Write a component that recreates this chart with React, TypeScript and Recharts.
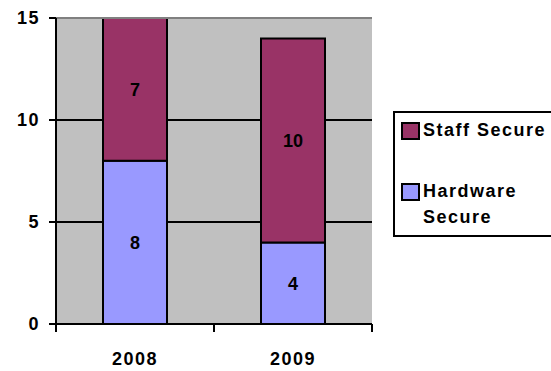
import React from 'react';
import { BarChart, Bar, XAxis, YAxis, CartesianGrid, LabelList, ReferenceLine } from 'recharts';

const categories = ['2008', '2009'];
const hardwareSecure = [8, 4];
const staffSecure = [7, 10];
const yTicks = [0, 5, 10, 15];

const seriesNames = { staff: 'Staff Secure', hardware: 'Hardware Secure' };
const seriesColors = { staff: '#993366', hardware: '#9999FF' };

const data = categories.map((c, i) => ({ year: c, hardware: hardwareSecure[i], staff: staffSecure[i] }));

const FONT = '"Liberation Sans", Arial, sans-serif';
const tickStyle = { fill: '#000', fontSize: 18, fontWeight: 'bold', fontFamily: FONT, letterSpacing: 1.5 } as any;

const legendItems = [
  { key: 'staff', name: seriesNames.staff, color: seriesColors.staff },
  { key: 'hardware', name: seriesNames.hardware, color: seriesColors.hardware },
];

const X_TICK_MARGIN = 28;
const Y_TICK_MARGIN = 9;
const TICK_LEN = 8;

function CategoryTick(props: any) {
  const { x, y, payload, width, visibleTicksCount } = props;
  const n = visibleTicksCount || categories.length;
  const half = width ? width / n / 2 : 0;
  const axisY = y - X_TICK_MARGIN;
  return (
    <g>
      <line x1={x - half} x2={x - half} y1={axisY} y2={axisY + TICK_LEN} stroke="#000" strokeWidth={2} />
      <line x1={x + half} x2={x + half} y1={axisY} y2={axisY + TICK_LEN} stroke="#000" strokeWidth={2} />
      <text x={x} y={y} dy="0.71em" textAnchor="middle" {...tickStyle}>
        {payload.value}
      </text>
    </g>
  );
}

function ValueTick(props: any) {
  const { x, y, payload } = props;
  const axisX = x + Y_TICK_MARGIN + 7;
  return (
    <g>
      <line x1={axisX - 7} x2={axisX} y1={y} y2={y} stroke="#000" strokeWidth={2} />
      <text x={x} y={y} dy="0.355em" textAnchor="end" {...tickStyle}>
        {payload.value}
      </text>
    </g>
  );
}

function LegendBox() {
  return (
    <div
      style={{
        position: 'absolute',
        left: 393,
        top: 111,
        width: 175,
        height: 126,
        boxSizing: 'border-box',
        border: '2px solid #000',
        background: '#fff',
        paddingTop: 4,
        fontFamily: FONT,
        fontWeight: 'bold',
        fontSize: 18,
        letterSpacing: 1.5,
        lineHeight: '26px',
        color: '#000',
      }}
    >
      {legendItems.map((it, i) => (
        <div key={it.key} style={{ display: 'flex', alignItems: 'flex-start', marginTop: i === 0 ? 0 : 35, marginLeft: 6 }}>
          <div
            style={{
              width: 19,
              height: 18,
              boxSizing: 'border-box',
              border: '2px solid #000',
              background: it.color,
              marginTop: 5,
              flex: '0 0 auto',
            }}
          />
          <div style={{ marginLeft: 3, width: 128 }}>{it.name}</div>
        </div>
      ))}
    </div>
  );
}

export default function App() {
  return (
    <div style={{ position: 'absolute', left: 0, top: 0, width: 551, height: 371, background: '#fff', overflow: 'hidden' }}>
      <BarChart
        width={551}
        height={371}
        data={data}
        margin={{ top: 18, right: 179, bottom: 0, left: 0 }}
        barSize={64}
      >
        <CartesianGrid xAxisId="cat" yAxisId="left" horizontal vertical={false} fill="#C0C0C0" stroke="#000" strokeWidth={2} />
        <XAxis
          xAxisId="cat"
          dataKey="year"
          height={47}
          tickLine={false}
          tickSize={0}
          tickMargin={X_TICK_MARGIN}
          tick={<CategoryTick />}
          axisLine={{ stroke: '#000', strokeWidth: 2 }}
        />
        <YAxis
          yAxisId="left"
          domain={[0, 15]}
          ticks={yTicks}
          width={56}
          tickSize={7}
          tickMargin={Y_TICK_MARGIN}
          tick={<ValueTick />}
          tickLine={false}
          axisLine={{ stroke: '#000', strokeWidth: 2 }}
        />
        <YAxis
          yAxisId="right"
          orientation="right"
          domain={[0, 15]}
          ticks={yTicks}
          width={0}
          tick={false}
          tickLine={false}
          axisLine={{ stroke: '#808080', strokeWidth: 2 }}
        />
        <ReferenceLine xAxisId="cat" yAxisId="left" y={15} stroke="#808080" strokeWidth={2} />
        <Bar xAxisId="cat" yAxisId="left" dataKey="hardware" name={seriesNames.hardware} stackId="a" fill={seriesColors.hardware} stroke="#000" strokeWidth={2} isAnimationActive={false}>
          <LabelList dataKey="hardware" position="center" fill="#000" fontSize={18} fontWeight="bold" fontFamily={FONT} />
        </Bar>
        <Bar xAxisId="cat" yAxisId="left" dataKey="staff" name={seriesNames.staff} stackId="a" fill={seriesColors.staff} stroke="#000" strokeWidth={2} isAnimationActive={false}>
          <LabelList dataKey="staff" position="center" fill="#000" fontSize={18} fontWeight="bold" fontFamily={FONT} />
        </Bar>
      </BarChart>
      <LegendBox />
    </div>
  );
}
